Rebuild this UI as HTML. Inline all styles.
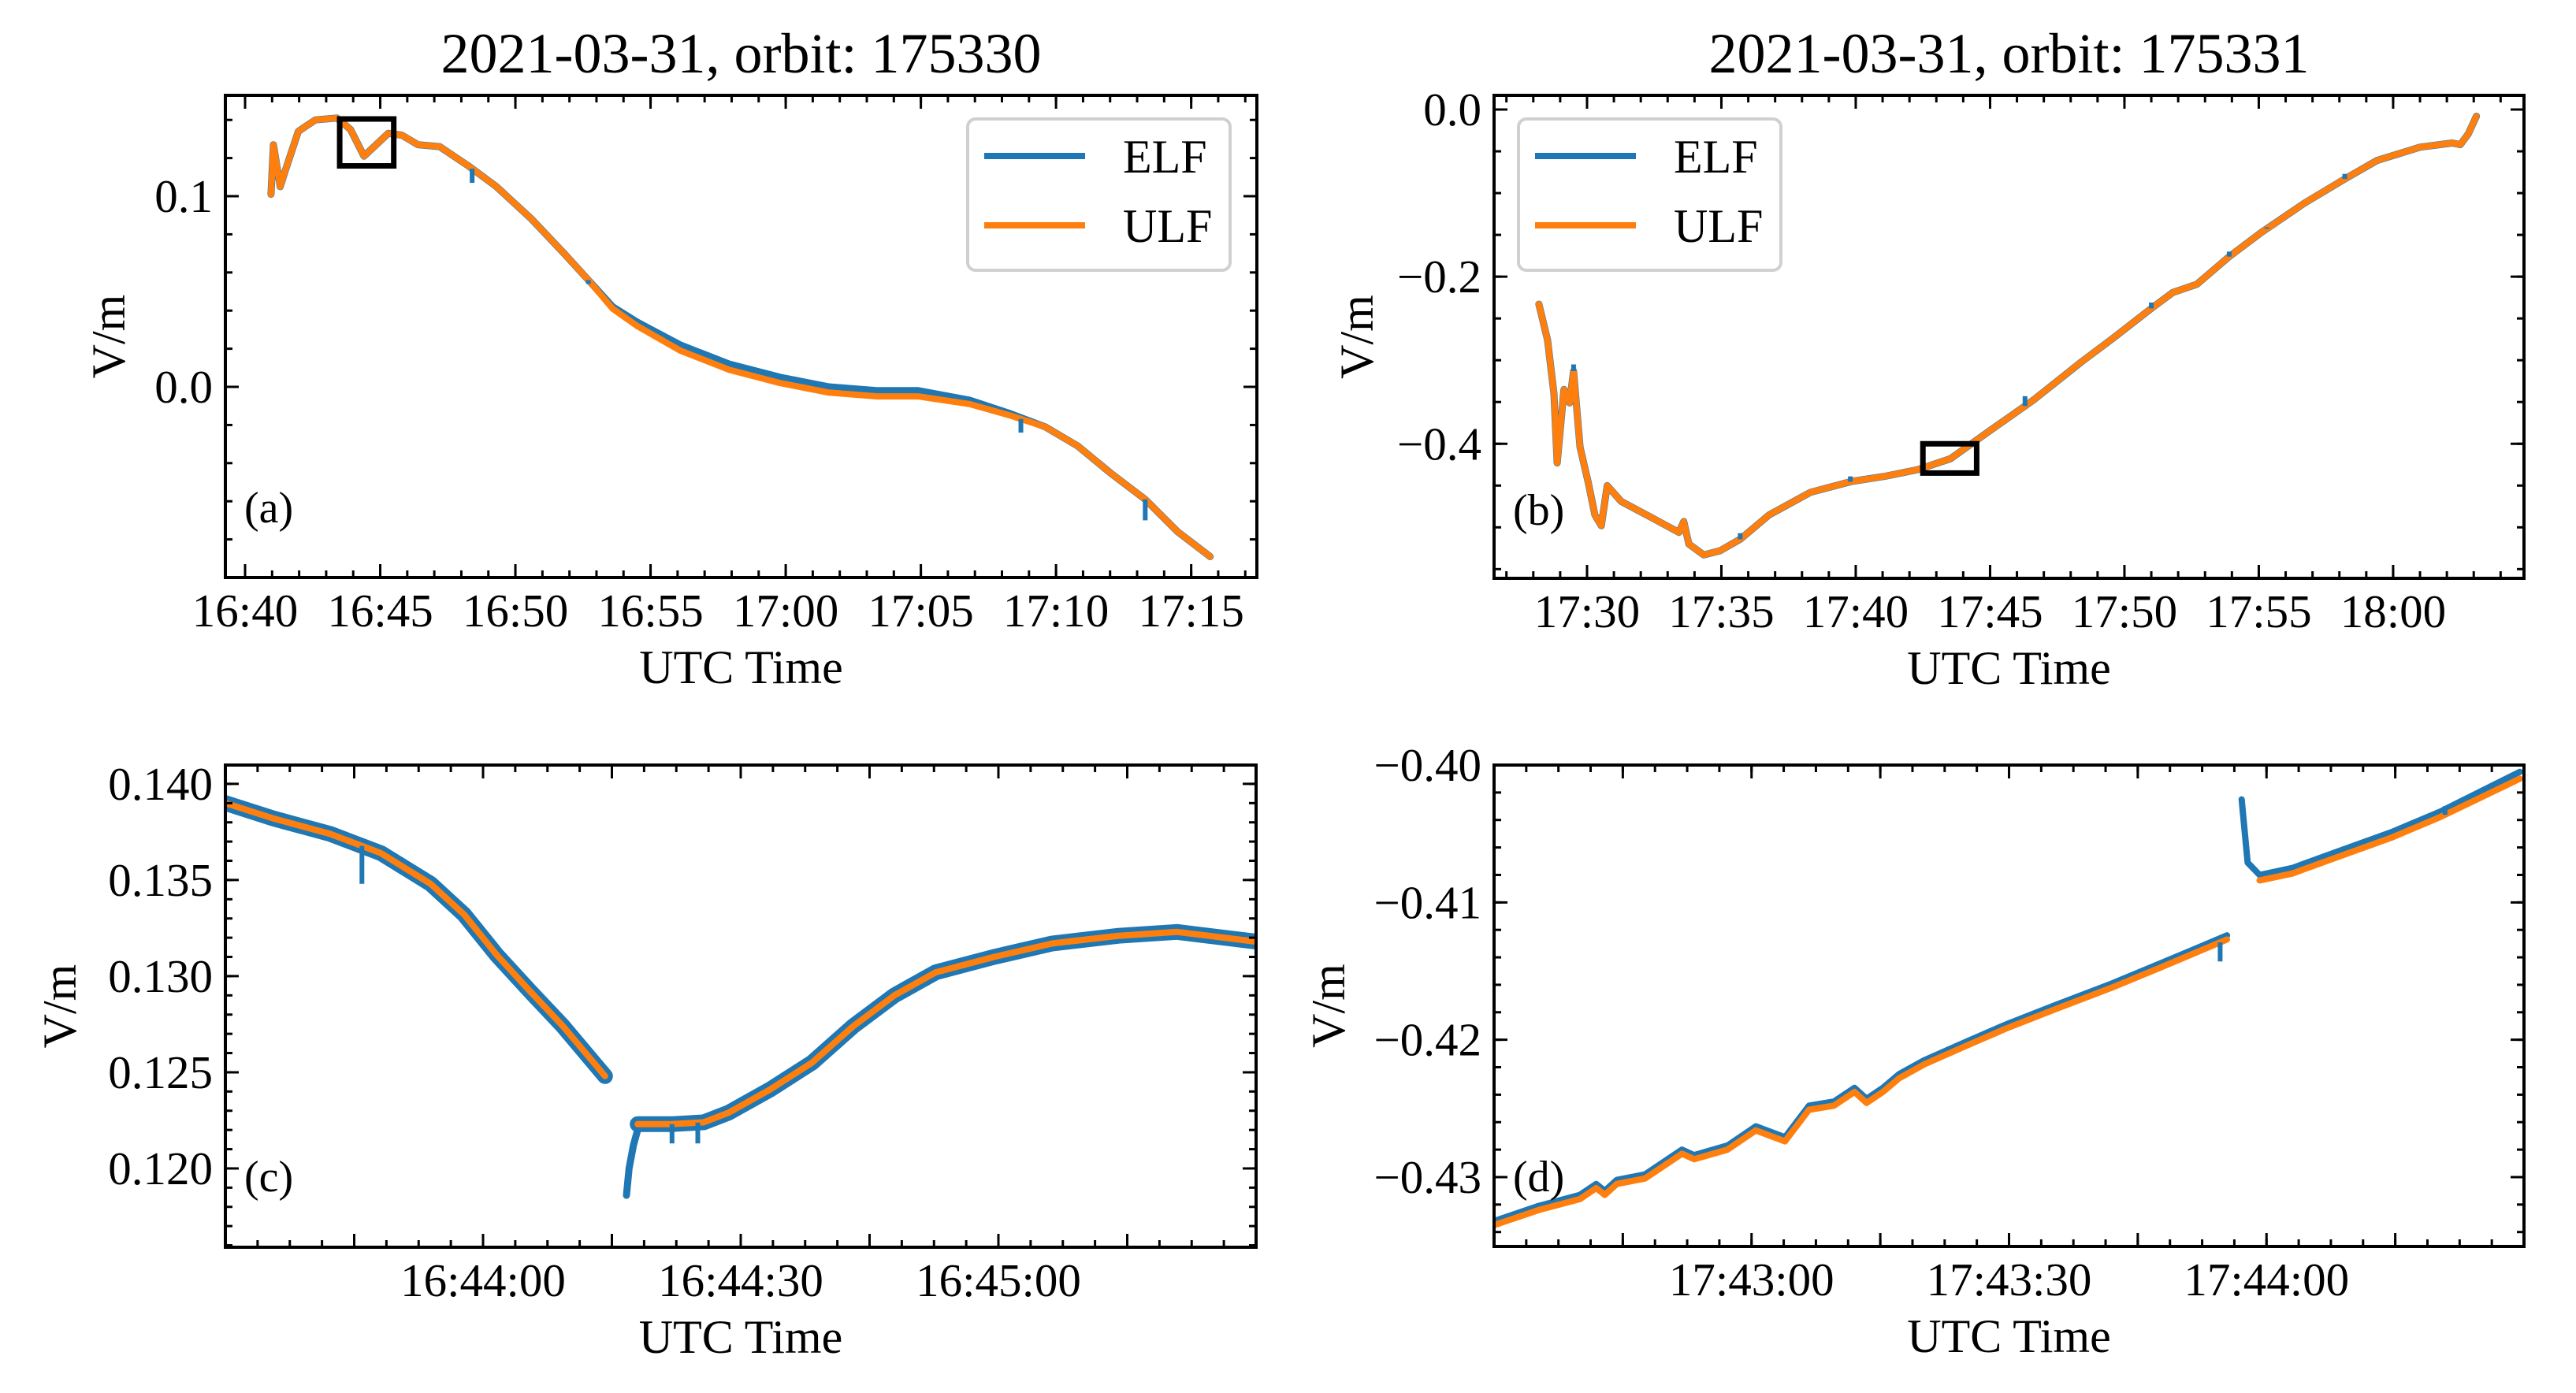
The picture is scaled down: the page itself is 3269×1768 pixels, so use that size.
<!DOCTYPE html>
<html><head><meta charset="utf-8"><style>
html,body{margin:0;padding:0;background:#fff}
svg{display:block}
text{font-family:"Liberation Serif",serif;fill:#000}
</style></head><body>
<svg id="fig" width="3269" height="1768" viewBox="0 0 3269 1768" xmlns="http://www.w3.org/2000/svg">
<rect x="0" y="0" width="3269" height="1768" fill="#fff"/>
</svg>
<script>
// ===== Panel (a): minutes after 16:40 =====
const aTime = [0.96,1.05,1.3,1.5,1.97,2.6,3.4,3.9,4.4,5.3,5.8,6.4,7.2,8.25,9.3,10.6,11.8,12.7,13.6,14.5,16.1,17.9,19.8,21.6,23.4,24.9,26.8,28.3,29.6,30.8,32.0,33.3,34.5,35.7];
const aULF = [0.101,0.127,0.105,0.114,0.134,0.140,0.141,0.135,0.121,0.133,0.132,0.127,0.126,0.116,0.105,0.088,0.070,0.056,0.041,0.032,0.019,0.009,0.002,-0.003,-0.005,-0.005,-0.009,-0.015,-0.021,-0.031,-0.045,-0.059,-0.076,-0.089];
const aELF = [0.101,0.127,0.105,0.114,0.134,0.140,0.141,0.135,0.121,0.133,0.132,0.127,0.126,0.116,0.105,0.088,0.070,0.056,0.042,0.034,0.022,0.012,0.005,0.000,-0.002,-0.002,-0.007,-0.014,-0.021,-0.031,-0.045,-0.059,-0.076,-0.089];
const aSpikeT = [8.4,12.7,28.7,33.3];
const aSpikeV = [0.107,0.054,-0.024,-0.070];
const aXTicks = [0,5,10,15,20,25,30,35];
const aXLabels = ["16:40","16:45","16:50","16:55","17:00","17:05","17:10","17:15"];
const aYTicks = [0.0,0.1];
const aYLabels = ["0.0","0.1"];

// ===== Panel (b): minutes after 17:30 =====
const bTime = [-1.79,-1.47,-1.23,-1.11,-0.86,-0.65,-0.50,-0.26,0.05,0.29,0.53,0.75,1.27,2.5,3.42,3.6,3.79,4.34,4.95,5.71,6.78,8.32,9.85,11.07,12.3,13.52,15.05,16.6,18.4,19.6,21.0,21.8,22.7,23.9,25.1,26.7,28.2,29.4,31.0,32.2,32.5,32.8,33.1];
const bULF = [-0.233,-0.276,-0.340,-0.423,-0.335,-0.351,-0.313,-0.404,-0.447,-0.485,-0.498,-0.450,-0.469,-0.490,-0.506,-0.493,-0.520,-0.533,-0.528,-0.514,-0.485,-0.458,-0.445,-0.439,-0.431,-0.418,-0.383,-0.348,-0.302,-0.273,-0.238,-0.219,-0.209,-0.176,-0.147,-0.112,-0.083,-0.061,-0.045,-0.040,-0.042,-0.029,-0.008];
const bELF = bULF.slice();
const bSpikeT = [-0.5,5.7,9.8,16.3,21.0,23.9,25.3,28.2];
const bSpikeV = [-0.305,-0.507,-0.439,-0.343,-0.231,-0.170,-0.141,-0.077];
const bXTicks = [0,5,10,15,20,25,30];
const bXLabels = ["17:30","17:35","17:40","17:45","17:50","17:55","18:00"];
const bYTicks = [0.0,-0.2,-0.4];
const bYLabels = ["0.0","\u22120.2","\u22120.4"];

// ===== Panel (c): seconds after 16:43:30 =====
const cTime1 = [0,5.6,12.2,18.1,23.9,27.8,31.6,35.5,39.3,44.2];
const cULF1 = [0.1390,0.1382,0.1374,0.1364,0.1348,0.1332,0.1311,0.1292,0.1274,0.1248];
const cTime2 = [48.0,51.9,55.7,58.6,63.4,68.3,73.1,77.9,82.7,89.5,96.3,104,110.8,119.9];
const cULF2 = [0.1223,0.1223,0.1224,0.1229,0.1241,0.1255,0.1274,0.1290,0.1302,0.1310,0.1317,0.1321,0.1323,0.1318];
const cDipTime = [46.7,47.0,47.5,48.0];
const cDipELF = [0.1186,0.1200,0.1212,0.1220];
const cSpikeT = [15.9,52.0,55.0];
const cSpikeV = [0.1348,0.1213,0.1213];
const cXTicks = [15,30,45,60,75,90,105];
const cXLabels = ["","16:44:00","","16:44:30","","16:45:00",""];
const cYTicks = [0.120,0.125,0.130,0.135,0.140];
const cYLabels = ["0.120","0.125","0.130","0.135","0.140"];

// ===== Panel (d): seconds after 17:42:30 =====
const dTime1 = [0,5.2,10.0,11.9,12.9,14.3,17.6,21.9,23.3,27.2,30.5,33.9,36.7,39.6,42.0,43.4,45.3,47.2,50.1,54.8,59.6,65.3,72.0,77.8,85.4];
const dULF1 = [-0.4335,-0.4324,-0.4316,-0.4308,-0.4313,-0.4305,-0.4301,-0.4283,-0.4287,-0.4280,-0.4266,-0.4274,-0.4251,-0.4248,-0.4238,-0.4246,-0.4238,-0.4228,-0.4218,-0.4205,-0.4192,-0.4178,-0.4162,-0.4147,-0.4127];
const dTime2 = [89.2,93.0,98.7,104.5,110.2,119.5];
const dULF2 = [-0.4084,-0.4079,-0.4066,-0.4053,-0.4038,-0.4010];
const dELFTime2 = [87.1,87.8,89.2,93.0,98.7,104.5,110.2,119.5];
const dELF2 = [-0.4025,-0.4071,-0.4080,-0.4075,-0.4062,-0.4049,-0.4034,-0.4005];
const dSpikeT = [84.6,110.8];
const dSpikeV = [-0.4143,-0.4030];
const dXTicks = [15,30,45,60,75,90,105];
const dXLabels = ["","17:43:00","","17:43:30","","17:44:00",""];
const dYTicks = [-0.40,-0.41,-0.42,-0.43];
const dYLabels = ["\u22120.40","\u22120.41","\u22120.42","\u22120.43"];

const NS = "http://www.w3.org/2000/svg";
const svg = document.getElementById('fig');
const BLUE = "#1f77b4", ORANGE = "#ff7f0e";
function mk(tag, attrs, parent){ const e=document.createElementNS(NS,tag); for(const k in attrs) e.setAttribute(k,attrs[k]); (parent||svg).appendChild(e); return e; }
function scale(d0,d1,r0,r1){ return v => r0 + (v-d0)/(d1-d0)*(r1-r0); }
function pathD(xs,ys,sx,sy){ return xs.map((t,i)=>(i?'L':'M')+sx(t).toFixed(1)+','+sy(ys[i]).toFixed(1)).join(''); }
function range(a,b,s){ const r=[]; for(let v=a; v<=b+1e-9; v+=s) r.push(+v.toFixed(6)); return r; }

function panel(P){
  const g = mk('g',{});
  
  
  const sx = scale(P.xd[0],P.xd[1],P.L,P.R), sy = scale(P.yd[0],P.yd[1],P.B,P.T);
  const clipId = 'clip-'+P.name;
  const cp = mk('clipPath',{id:clipId},g); mk('rect',{x:P.L,y:P.T,width:P.R-P.L,height:P.B-P.T},cp);
  const plot = mk('g',{'clip-path':'url(#'+clipId+')'},g);
  P.series.forEach(s=>{
    const p = mk('path',{d:pathD(s.x,s.y,sx,sy),fill:'none',stroke:s.c,'stroke-width':s.w,'stroke-linejoin':'round','stroke-linecap':'round'},plot);
    
    
  });
  if(P.spT) P.spT.forEach((t,i)=>{
    const base = P.spBase(t);
    const l = mk('line',{x1:sx(t),x2:sx(t),y1:sy(base),y2:sy(P.spV[i]),stroke:BLUE,'stroke-width':6},plot);
    
    
  });
  if(P.box){
    const b = P.box;
    const r = mk('rect',{x:sx(b[0]),y:sy(b[3]),width:sx(b[1])-sx(b[0]),height:sy(b[2])-sy(b[3]),fill:'none',stroke:'#000','stroke-width':7},g);
    
    
  }
  const tg = mk('g',{stroke:'#000','stroke-width':3},g);
  P.xMinor.forEach(t=>{ if(t<=P.xd[0]||t>=P.xd[1]) return; const x=sx(t);
    mk('line',{x1:x,x2:x,y1:P.B,y2:P.B-9},tg); mk('line',{x1:x,x2:x,y1:P.T,y2:P.T+9},tg); });
  P.xTicks.forEach(t=>{ const x=sx(t);
    mk('line',{x1:x,x2:x,y1:P.B,y2:P.B-17},tg); mk('line',{x1:x,x2:x,y1:P.T,y2:P.T+17},tg); });
  P.yMinor.forEach(v=>{ if(v<=P.yd[0]||v>=P.yd[1]) return; const y=sy(v);
    mk('line',{x1:P.L,x2:P.L+9,y1:y,y2:y},tg); mk('line',{x1:P.R,x2:P.R-9,y1:y,y2:y},tg); });
  P.yTicks.forEach(v=>{ const y=sy(v);
    mk('line',{x1:P.L,x2:P.L+17,y1:y,y2:y},tg); mk('line',{x1:P.R,x2:P.R-17,y1:y,y2:y},tg); });
  P.xTicks.forEach((t,i)=>{ if(!P.xLabels[i]) return;
    const tx = mk('text',{x:sx(t),y:P.B+62,'font-size':59,'text-anchor':'middle'},g); tx.textContent=P.xLabels[i];
    
     });
  P.yTicks.forEach((v,i)=>{
    const tx = mk('text',{x:P.L-16,y:sy(v)+20,'font-size':59,'text-anchor':'end'},g); tx.textContent=P.yLabels[i];
    
     });
  const xt = mk('text',{x:(P.L+P.R)/2,y:P.B+134,'font-size':60,'text-anchor':'middle'},g); xt.textContent='UTC Time';
  
  
  const yc=(P.T+P.B)/2;
  const yt = mk('text',{x:P.yLabelX,y:yc,'font-size':60,'text-anchor':'middle',transform:'rotate(-90 '+P.yLabelX+' '+yc+')'},g); yt.textContent='V/m';
  
  
  const pl = mk('text',{x:P.L+24,y:P.labY,'font-size':56},g); pl.textContent=P.tag;
  
  
  if(P.title){ const ti = mk('text',{x:(P.L+P.R)/2,y:92,'font-size':72,'text-anchor':'middle'},g); ti.textContent=P.title;
    
     }
  if(P.legend){
    const lx=P.legend[0], ly=151;
    const lg = mk('g',{},g);
    
    
    mk('rect',{x:lx,y:ly,width:333,height:192,rx:10,fill:'#fff','fill-opacity':0.85,stroke:'#d0d0d0','stroke-width':4},lg);
    [['ELF',BLUE,198],['ULF',ORANGE,286]].forEach(e=>{
      const l=mk('line',{x1:lx+21,x2:lx+149,y1:e[2],y2:e[2],stroke:e[1],'stroke-width':8},lg);
      
      
      const t=mk('text',{x:lx+197,y:e[2]+21,'font-size':60},lg); t.textContent=e[0];
      
      
    });
  }
  const fr = mk('rect',{x:P.L,y:P.T,width:P.R-P.L,height:P.B-P.T,fill:'none',stroke:'#000','stroke-width':4},g);
  
  
}
function interp(xs,ys){ return t=>{ for(let i=1;i<xs.length;i++){ if(t<=xs[i]){ const f=(t-xs[i-1])/(xs[i]-xs[i-1]); return ys[i-1]+f*(ys[i]-ys[i-1]); } } return ys[ys.length-1]; }; }

panel({name:'panel-a',tag:'(a)',title:'2021-03-31, orbit: 175330',L:286,R:1595,T:121,B:733,xd:[-0.729,37.43],yd:[-0.1,0.1529],
  series:[{x:aTime,y:aELF,c:BLUE,w:9,n:'elf-line'},{x:aTime,y:aULF,c:ORANGE,w:8,n:'ulf-line'}],
  spT:aSpikeT,spV:aSpikeV,spBase:interp(aTime,aULF),box:[3.5,5.5,0.1159,0.1405],
  xTicks:aXTicks,xLabels:aXLabels,xMinor:range(-1,38,1),yTicks:aYTicks,yLabels:aYLabels,yMinor:range(-0.1,0.16,0.02),
  yLabelX:158,labY:663,legend:[1228]});
panel({name:'panel-b',tag:'(b)',title:'2021-03-31, orbit: 175331',L:1896,R:3203,T:121,B:734,xd:[-3.46,34.87],yd:[-0.561,0.017],
  series:[{x:bTime,y:bELF,c:BLUE,w:9,n:'elf-line'},{x:bTime,y:bULF,c:ORANGE,w:8,n:'ulf-line'}],
  spT:bSpikeT,spV:bSpikeV,spBase:interp(bTime,bULF),box:[12.5,14.5,-0.435,-0.400],
  xTicks:bXTicks,xLabels:bXLabels,xMinor:range(-4,35,1),yTicks:bYTicks,yLabels:bYLabels,yMinor:range(-0.55,0.01,0.05),
  yLabelX:1742,labY:666,legend:[1927]});
panel({name:'panel-c',tag:'(c)',L:286,R:1594,T:971,B:1583,xd:[0,120],yd:[0.1159,0.14098],
  series:[{x:cTime1,y:cULF1,c:BLUE,w:20,n:'elf-line'},{x:cTime2,y:cULF2,c:BLUE,w:20,n:'elf-line'},
          {x:cDipTime,y:cDipELF,c:BLUE,w:9,n:'elf-line'},
          {x:cTime1,y:cULF1,c:ORANGE,w:8,n:'ulf-line'},{x:cTime2,y:cULF2,c:ORANGE,w:8,n:'ulf-line'}],
  spT:cSpikeT,spV:cSpikeV,spBase:interp(cTime1.concat(cTime2),cULF1.concat(cULF2)),
  xTicks:cXTicks,xLabels:cXLabels,xMinor:range(0,120,3.75),yTicks:cYTicks,yLabels:cYLabels,yMinor:range(0.116,0.141,0.001),
  yLabelX:96,labY:1512});
panel({name:'panel-d',tag:'(d)',L:1896,R:3203,T:971,B:1582,xd:[0,120],yd:[-0.43505,-0.40],
  series:[{x:dTime1,y:dULF1.map(v=>v+0.0003),c:BLUE,w:8,n:'elf-line'},{x:dELFTime2,y:dELF2,c:BLUE,w:8,n:'elf-line'},
          {x:dTime1,y:dULF1,c:ORANGE,w:8,n:'ulf-line'},{x:dTime2,y:dULF2,c:ORANGE,w:8,n:'ulf-line'}],
  spT:dSpikeT,spV:dSpikeV,spBase:interp(dTime1.concat(dTime2),dULF1.concat(dULF2)),
  xTicks:dXTicks,xLabels:dXLabels,xMinor:range(0,120,3.75),yTicks:dYTicks,yLabels:dYLabels,yMinor:range(-0.434,-0.4,0.002),
  yLabelX:1706,labY:1512});
</script>
</body></html>
